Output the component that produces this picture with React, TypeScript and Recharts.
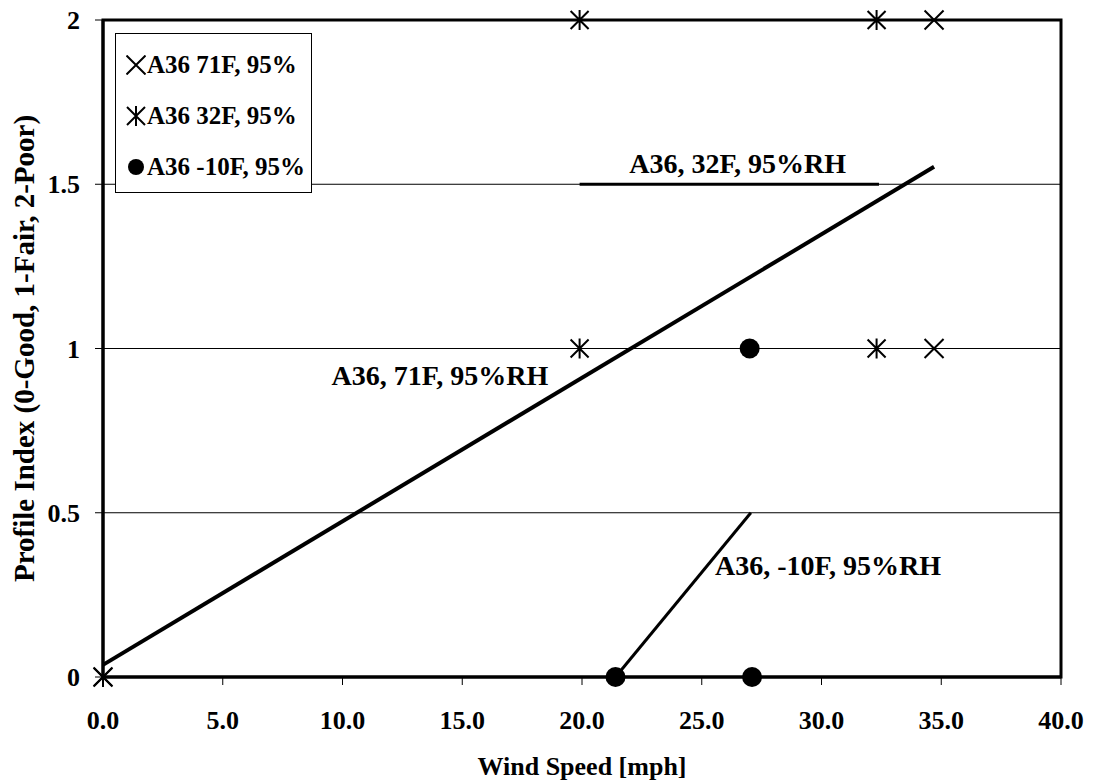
import React from 'react';
import {
  ScatterChart,
  Scatter,
  XAxis,
  YAxis,
  CartesianGrid,
  Legend,
  Label,
  ReferenceArea,
  ReferenceDot,
} from 'recharts';

// measured points (wind speed, profile index)
const a36_71F = [
  { x: 0, y: 0 },
  { x: 34.7, y: 1 },
  { x: 34.7, y: 2 },
];
const a36_32F = [
  { x: 0, y: 0 },
  { x: 19.9, y: 1 },
  { x: 32.3, y: 1 },
  { x: 19.9, y: 2 },
  { x: 32.3, y: 2 },
];
const a36_m10F = [
  { x: 21.4, y: 0 },
  { x: 27.1, y: 0 },
  { x: 27.0, y: 1 },
];

// trend lines (end points)
const trend71F = [
  { x: 0, y: 0.037 },
  { x: 34.7, y: 1.553 },
];
const trend32F = [
  { x: 19.9, y: 1.5 },
  { x: 32.4, y: 1.5 },
];
const trendM10F = [
  { x: 21.4, y: 0 },
  { x: 27.05, y: 0.5 },
];

const xTicks = [0, 5, 10, 15, 20, 25, 30, 35, 40];
const yTicks = [0, 0.5, 1, 1.5, 2];

const legendItems = [
  { name: 'A36 71F, 95%', symbol: 'x' },
  { name: 'A36 32F, 95%', symbol: 'star' },
  { name: 'A36 -10F, 95%', symbol: 'dot' },
];

const FONT = '"Liberation Serif", "Times New Roman", serif';

const XMark = (props: any) => {
  const { cx, cy } = props;
  const s = 9.5;
  return (
    <path
      d={`M${cx - s},${cy - s}L${cx + s},${cy + s}M${cx + s},${cy - s}L${cx - s},${cy + s}`}
      stroke="#000"
      strokeWidth={2}
      fill="none"
    />
  );
};

const StarMark = (props: any) => {
  const { cx, cy } = props;
  const s = 9;
  return (
    <path
      d={`M${cx - s},${cy - s}L${cx + s},${cy + s}M${cx + s},${cy - s}L${cx - s},${cy + s}M${cx},${cy - s - 1}L${cx},${cy + s + 1}`}
      stroke="#000"
      strokeWidth={2}
      fill="none"
    />
  );
};

const DotMark = (props: any) => {
  const { cx, cy } = props;
  return <circle cx={cx} cy={cy} r={10} fill="#000" />;
};

const NoMark = () => <g />;

const LegendSymbol = ({ type }: { type: string }) => (
  <svg width={20} height={20} style={{ display: 'block' }}>
    {type === 'x' && <XMark cx={10} cy={10} />}
    {type === 'star' && <StarMark cx={10} cy={10} />}
    {type === 'dot' && <circle cx={10} cy={10} r={8} fill="#000" />}
  </svg>
);

const LegendBox = () => (
  <div
    style={{
      width: 197,
      height: 160,
      boxSizing: 'border-box',
      border: '1px solid #000',
      background: '#fff',
      paddingTop: 5,
      fontFamily: FONT,
      fontWeight: 'bold',
      fontSize: 25,
      color: '#000',
    }}
  >
    {legendItems.map(item => (
      <div
        key={item.name}
        style={{ height: 51, display: 'flex', alignItems: 'center', paddingLeft: 10 }}
      >
        <LegendSymbol type={item.symbol} />
        <span style={{ marginLeft: 1, whiteSpace: 'nowrap' }}>{item.name}</span>
      </div>
    ))}
  </div>
);

const tickStyle = { fontFamily: FONT, fontWeight: 'bold', fontSize: 26, fill: '#000' };
const noteStyle = { fontFamily: FONT, fontWeight: 'bold', fontSize: 28, fill: '#000' };

export default function App() {
  return (
    <div style={{ position: 'fixed', left: 0, top: 0, width: 1095, height: 783, background: '#fff' }}>
      <ScatterChart
        width={1095}
        height={783}
        margin={{ top: 20, right: 34, bottom: 6, left: 8 }}
      >
        <CartesianGrid vertical={false} stroke="#000" strokeWidth={1} />
        <XAxis
          type="number"
          dataKey="x"
          domain={[0, 40]}
          ticks={xTicks}
          tickFormatter={(v: number) => v.toFixed(1)}
          height={100}
          tick={tickStyle}
          tickSize={8}
          tickMargin={26}
          axisLine={{ stroke: '#000', strokeWidth: 3 }}
          tickLine={{ stroke: '#000' }}
        >
          <Label
            value="Wind Speed [mph]"
            position="insideBottom"
            offset={2}
            style={{ fontFamily: FONT, fontWeight: 'bold', fontSize: 26, fill: '#000' }}
          />
        </XAxis>
        <YAxis
          type="number"
          dataKey="y"
          domain={[0, 2]}
          ticks={yTicks}
          tickFormatter={(v: number) => String(v)}
          width={95}
          tick={tickStyle}
          tickSize={8}
          tickMargin={15}
          axisLine={{ stroke: '#000', strokeWidth: 3 }}
          tickLine={{ stroke: '#000' }}
        >
          <Label
            value="Profile Index (0-Good, 1-Fair, 2-Poor)"
            angle={-90}
            position="insideLeft"
            offset={16}
            style={{ fontFamily: FONT, fontWeight: 'bold', fontSize: 29, fill: '#000', textAnchor: 'middle' }}
          />
        </YAxis>
        <ReferenceArea x1={0} x2={40} y1={0} y2={2} fill="none" stroke="#000" strokeWidth={3} />
        <Legend
          layout="vertical"
          align="center"
          verticalAlign="middle"
          wrapperStyle={{ position: 'absolute', left: 115, top: 33, width: 197, height: 160 }}
          content={() => <LegendBox />}
        />
        <Scatter
          name="A36, 71F, 95%RH"
          data={trend71F}
          line={{ stroke: '#000', strokeWidth: 4 }}
          shape={NoMark}
          legendType="none"
          isAnimationActive={false}
        />
        <Scatter
          name="A36, 32F, 95%RH"
          data={trend32F}
          line={{ stroke: '#000', strokeWidth: 3 }}
          shape={NoMark}
          legendType="none"
          isAnimationActive={false}
        />
        <Scatter
          name="A36, -10F, 95%RH"
          data={trendM10F}
          line={{ stroke: '#000', strokeWidth: 3 }}
          shape={NoMark}
          legendType="none"
          isAnimationActive={false}
        />
        <Scatter name="A36 71F, 95%" data={a36_71F} shape={XMark} isAnimationActive={false} />
        <Scatter name="A36 32F, 95%" data={a36_32F} shape={StarMark} isAnimationActive={false} />
        <Scatter name="A36 -10F, 95%" data={a36_m10F} shape={DotMark} isAnimationActive={false} />
        <ReferenceDot
          x={26.5}
          y={1.565}
          r={0}
          stroke="none"
          fill="none"
          label={{ value: 'A36, 32F, 95%RH', position: 'center', style: noteStyle }}
        />
        <ReferenceDot
          x={14.07}
          y={0.919}
          r={0}
          stroke="none"
          fill="none"
          label={{ value: 'A36, 71F, 95%RH', position: 'center', style: noteStyle }}
        />
        <ReferenceDot
          x={30.27}
          y={0.341}
          r={0}
          stroke="none"
          fill="none"
          label={{ value: 'A36, -10F, 95%RH', position: 'center', style: noteStyle }}
        />
      </ScatterChart>
    </div>
  );
}
